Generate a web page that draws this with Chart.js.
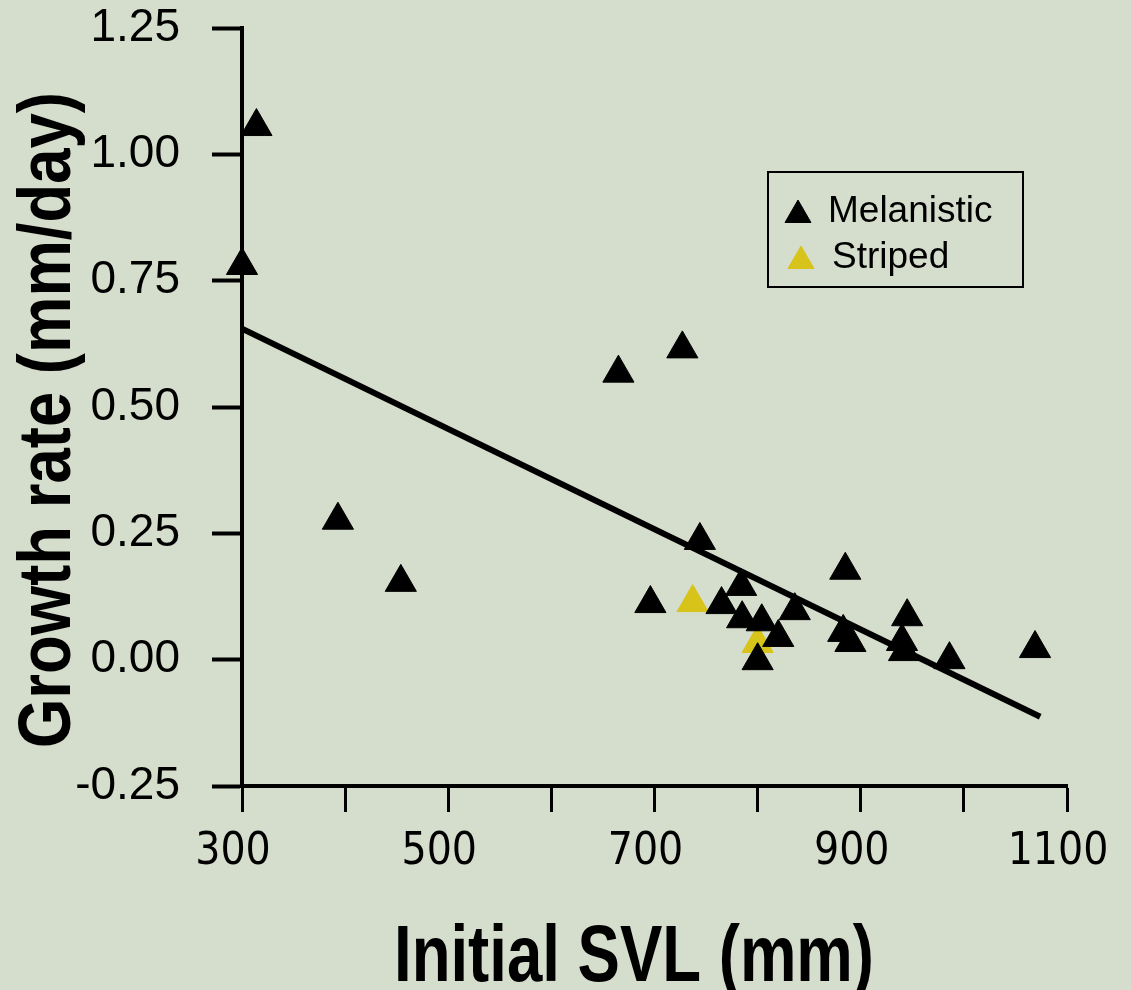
<!DOCTYPE html>
<html>
<head>
<meta charset="utf-8">
<title>Growth rate vs Initial SVL</title>
<script src="https://cdn.jsdelivr.net/npm/chart.js@4.4.1/dist/chart.umd.min.js"></script>
<style>
  body { margin: 0; background: #d5ddcc; }
  #wrap { width: 1131px; height: 990px; }
</style>
</head>
<body>
<div id="wrap"><canvas id="grafico"></canvas></div>
<script>
// =======================
// DATA
// =======================
const melanisticSVL  = [300, 314, 393, 454, 665, 727, 696, 744, 765, 784, 785, 804, 820, 800, 836, 885, 883, 890, 945, 940, 942, 986, 1069];
const melanisticRate = [0.78, 1.055, 0.276, 0.153, 0.567, 0.615, 0.111, 0.236, 0.109, 0.145, 0.081, 0.075, 0.044, -0.002, 0.097, 0.177, 0.054, 0.034, 0.085, 0.036, 0.016, 0.0, 0.022];

const stripedSVL  = [737, 800];
const stripedRate = [0.113, 0.032];

// regression line ends
const fitSVL  = [300, 1074];
const fitRate = [0.655, -0.113];

const xLabelTicks = [300, 500, 700, 900, 1100];
const yTickValues = [-0.25, 0, 0.25, 0.5, 0.75, 1, 1.25];

const xTitle = "Initial SVL (mm)";
const yTitle = "Growth rate (mm/day)";

const BLACK = "#000000";
const YELLOW = "#d8c31a";

function toPoints(xs, ys) {
  return xs.map((x, i) => ({ x: x, y: ys[i] }));
}

// texto condensado: se comprime en horizontal hasta el ancho pedido
function condensedText(ctx, text, width) {
  const w = ctx.measureText(text).width;
  ctx.scale(width / w, 1);
  ctx.fillText(text, -w / 2, 0);
}

// =======================
// AXIS TITLES (bold condensed)
// =======================
const axisTitles = {
  id: "axisTitles",
  afterDraw(chart) {
    const { ctx, chartArea } = chart;
    ctx.save();
    ctx.fillStyle = BLACK;
    ctx.textBaseline = "alphabetic";

    ctx.save();
    ctx.font = "bold 80px 'Liberation Sans', Arial, sans-serif";
    ctx.translate(chartArea.left + 392, chart.height - 9);
    condensedText(ctx, xTitle, 480);
    ctx.restore();

    ctx.save();
    ctx.font = "bold 74px 'Liberation Sans', Arial, sans-serif";
    ctx.translate(70, chartArea.top + 392);
    ctx.rotate(-Math.PI / 2);
    condensedText(ctx, yTitle, 656);
    ctx.restore();

    ctx.restore();
  }
};

// =======================
// LEGEND BOX (inside the plot)
// =======================
const legendBox = {
  id: "legendBox",
  afterDatasetsDraw(chart) {
    const { ctx, chartArea } = chart;
    const x = chartArea.left + 526;
    const y = chartArea.top + 144;

    ctx.save();
    ctx.lineWidth = 2;
    ctx.strokeStyle = BLACK;
    ctx.strokeRect(x, y, 255, 115);

    ctx.font = "37px 'Liberation Sans', Arial, sans-serif";
    ctx.textBaseline = "middle";

    [0, 1].forEach(i => {
      const ds = chart.data.datasets[i];
      const cy = y + 39 + i * 46;
      ctx.fillStyle = ds.backgroundColor;
      ctx.strokeStyle = ds.borderColor;
      ctx.lineWidth = 1;
      Chart.helpers.drawPoint(ctx, { pointStyle: "triangle", radius: 15, borderWidth: 1, rotation: 0 }, x + 30 + i * 3, cy + 4);
      ctx.fillStyle = BLACK;
      ctx.fillText(ds.label, x + 60 + i * 4, cy + 1);
    });
    ctx.restore();
  }
};

// =======================
// CHART
// =======================
new Chart(document.getElementById("grafico"), {
  type: "scatter",
  data: {
    datasets: [
      {
        label: "Melanistic",
        data: toPoints(melanisticSVL, melanisticRate),
        pointStyle: "triangle",
        pointRadius: 18,
        pointHoverRadius: 18,
        backgroundColor: BLACK,
        borderColor: BLACK,
        pointBorderWidth: 1,
        clip: false
      },
      {
        label: "Striped",
        data: toPoints(stripedSVL, stripedRate),
        pointStyle: "triangle",
        pointRadius: 18,
        pointHoverRadius: 18,
        backgroundColor: YELLOW,
        borderColor: YELLOW,
        pointBorderWidth: 1,
        clip: false
      },
      {
        label: "fit",
        data: toPoints(fitSVL, fitRate),
        showLine: true,
        pointRadius: 0,
        borderColor: BLACK,
        borderWidth: 6,
        fill: false
      }
    ]
  },
  options: {
    responsive: true,
    maintainAspectRatio: false,
    animation: false,
    layout: { padding: { top: 28, right: 64, left: 0, bottom: 0 } },
    plugins: {
      legend: { display: false },
      tooltip: { enabled: false }
    },
    scales: {
      x: {
        type: "linear",
        min: 300,
        max: 1100,
        afterFit: s => { s.height = 204; s.paddingLeft = 0; s.paddingRight = 0; },
        border: { display: true, color: BLACK, width: 4 },
        grid: { drawOnChartArea: false, drawTicks: true, tickLength: 26, tickWidth: 3, tickColor: BLACK, color: BLACK },
        ticks: {
          stepSize: 100,
          padding: 14,
          labelOffset: -9,
          color: BLACK,
          maxRotation: 0,
          autoSkip: false,
          font: { family: "'DejaVu Sans Condensed', sans-serif", size: 44 },
          callback: v => xLabelTicks.includes(v) ? String(v) : ""
        }
      },
      y: {
        type: "linear",
        min: -0.25,
        max: 1.25,
        afterFit: s => { s.width = 242; s.paddingTop = 0; s.paddingBottom = 0; },
        afterBuildTicks: s => { s.ticks = yTickValues.map(v => ({ value: v })); },
        border: { display: true, color: BLACK, width: 4 },
        grid: { drawOnChartArea: false, drawTicks: true, tickLength: 30, tickWidth: 4, tickColor: BLACK, color: BLACK },
        ticks: {
          padding: 32,
          color: BLACK,
          font: { family: "'Liberation Sans', Arial, sans-serif", size: 46 },
          callback: v => Number(v).toFixed(2)
        }
      }
    }
  },
  plugins: [legendBox, axisTitles]
});
</script>
</body>
</html>
